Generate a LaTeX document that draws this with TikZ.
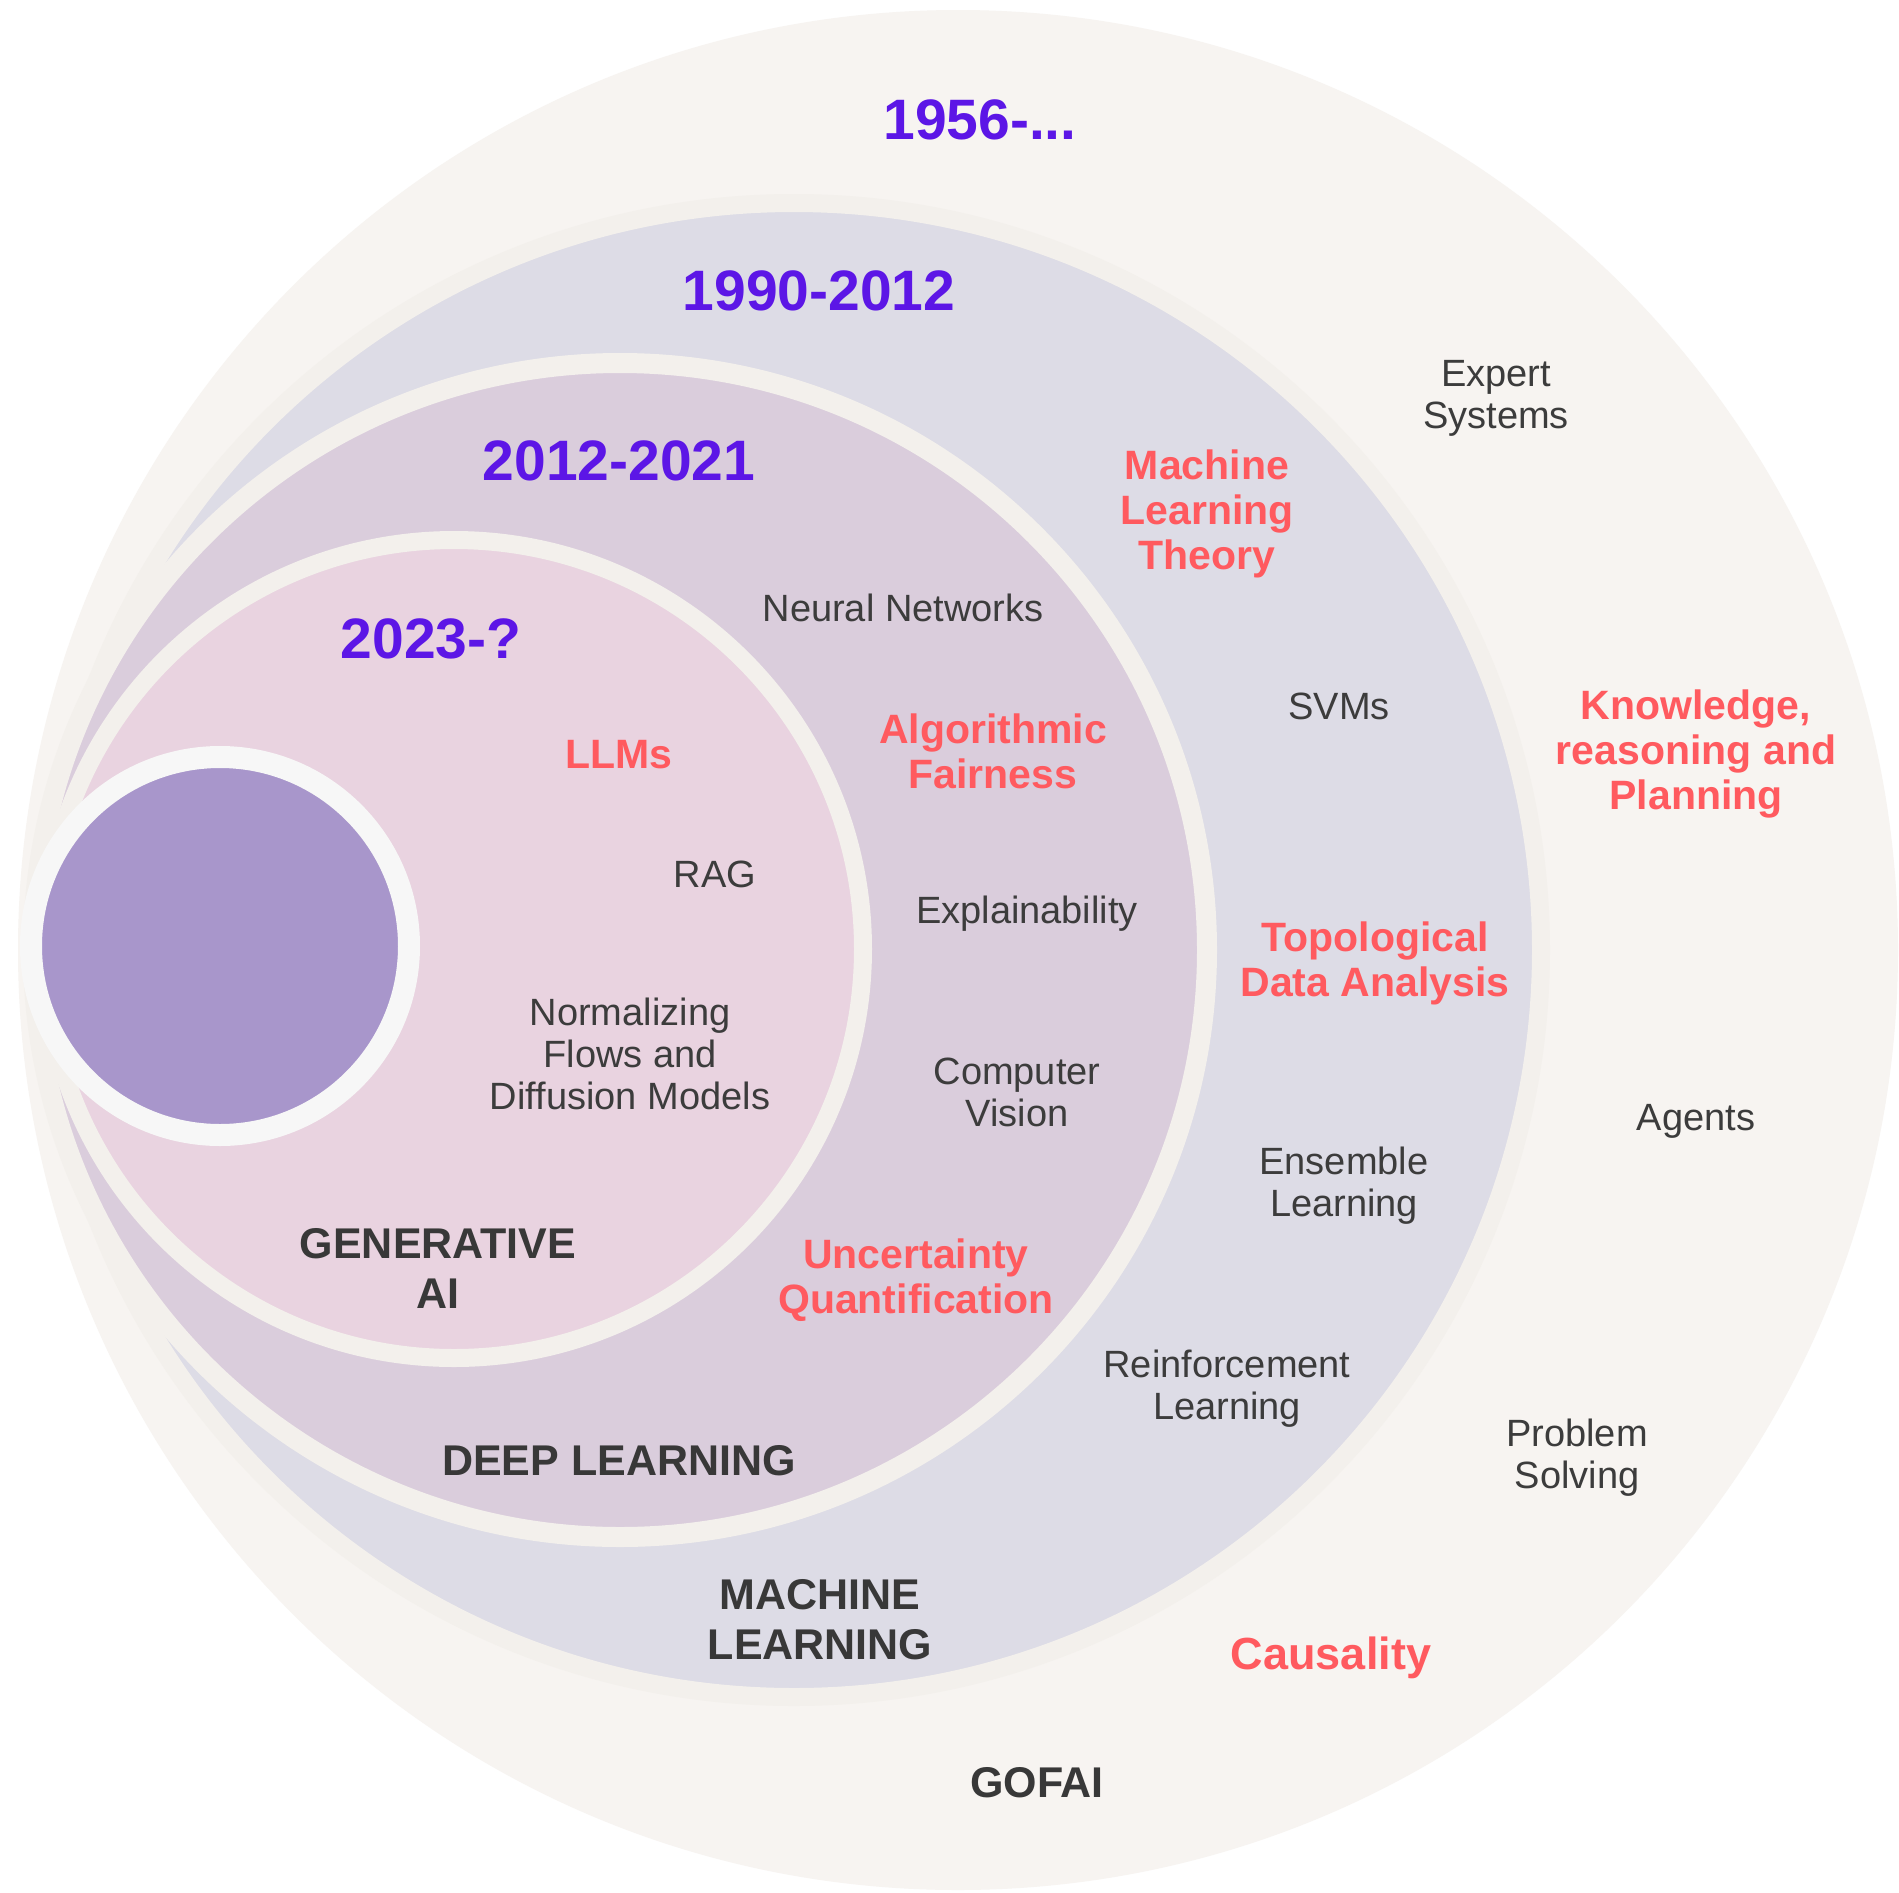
\documentclass[tikz,border=0pt]{standalone}
\usepackage{fontspec}
\setmainfont{Liberation Sans}
\definecolor{outerbg}{HTML}{F7F4F1}
\definecolor{ringbg}{HTML}{F3F0EC}
\definecolor{mlfill}{HTML}{DDDCE6}
\definecolor{dlfill}{HTML}{DACDDC}
\definecolor{genfill}{HTML}{E9D3E0}
\definecolor{corefill}{HTML}{A896CB}
\definecolor{corering}{HTML}{F7F7F7}
\definecolor{yearcol}{HTML}{5C16E6}
\definecolor{redcol}{HTML}{FF5A5F}
\definecolor{txtgray}{HTML}{3C3C3C}
\definecolor{secgray}{HTML}{383838}
\tikzset{
  graylbl/.style={font=\fontsize{38}{42}\selectfont, text=txtgray, align=center, inner sep=0pt, yshift=-4pt},
  redlbl/.style={font=\bfseries\fontsize{41}{45}\selectfont, text=redcol, align=center, inner sep=0pt, yshift=-4pt},
  seclbl/.style={font=\bfseries\fontsize{43}{50}\selectfont, text=secgray, align=center, inner sep=0pt},
  yearlbl/.style={font=\bfseries\fontsize{57}{62}\selectfont, text=yearcol, align=center, inner sep=0pt}
}
\begin{document}
\begin{tikzpicture}[x=1pt,y=-1pt]
\useasboundingbox (0,0) rectangle (1899,1893);
\fill[white] (0,0) rectangle (1899,1893);
% rings
\fill[outerbg] (958,950) circle[radius=940pt];
\draw[line width=18pt, draw=ringbg, fill=mlfill] (794,950) circle[radius=747pt];
\draw[line width=20pt, draw=ringbg, fill=dlfill] (620,950) circle[radius=587pt];
\draw[line width=18pt, draw=ringbg, fill=genfill] (454,949) circle[radius=409pt];
\draw[line width=22pt, draw=corering, fill=corefill] (220,946) circle[radius=189pt];
% years
\node[yearlbl] (y1956) at (980,120) {1956-...};
\node[yearlbl] (y1990) at (819,291) {1990-2012};
\node[yearlbl] (y2012) at (619,461) {2012-2021};
\node[yearlbl] (y2023) at (431,639) {2023-?};
% gray labels
\node[graylbl] (expert) at (1496,394) {Expert\\Systems};
\node[graylbl] (neural) at (903,604) {Neural Networks};
\node[graylbl] (svms) at (1339,702) {SVMs};
\node[graylbl] (rag) at (715,870) {RAG};
\node[graylbl] (explain) at (1027,910) {Explainability};
\node[graylbl] (flows) at (630,1050) {Normalizing\\Flows and\\Diffusion Models};
\node[graylbl] (cv) at (1017,1088) {Computer\\Vision};
\node[graylbl] (agents) at (1696,1117) {Agents};
\node[graylbl] (ensemble) at (1344,1182) {Ensemble\\Learning};
\node[graylbl] (rl) at (1227,1385) {Reinforcement\\Learning};
\node[graylbl] (problem) at (1577,1454) {Problem\\Solving};
% red labels
\node[redlbl] (mlt) at (1207,510) {Machine\\Learning\\Theory};
\node[redlbl] (krp) at (1696,750) {Knowledge,\\reasoning and\\Planning};
\node[redlbl] (llms) at (619,751) {LLMs};
\node[redlbl] (fair) at (993,747) {Algorithmic\\Fairness};
\node[redlbl] (tda) at (1375,959) {Topological\\Data Analysis};
\node[redlbl] (uq) at (916,1276) {Uncertainty\\Quantification};
\node[redlbl, font=\bfseries\fontsize{45}{50}\selectfont] (causal) at (1331,1654) {Causality};
% section names
\node[seclbl] (genai) at (438,1268) {GENERATIVE\\AI};
\node[seclbl] (deep) at (619,1461) {DEEP LEARNING};
\node[seclbl] (ml) at (820,1620) {MACHINE\\LEARNING};
\node[seclbl] (gofai) at (1037,1783) {GOFAI};
\end{tikzpicture}
\end{document}
